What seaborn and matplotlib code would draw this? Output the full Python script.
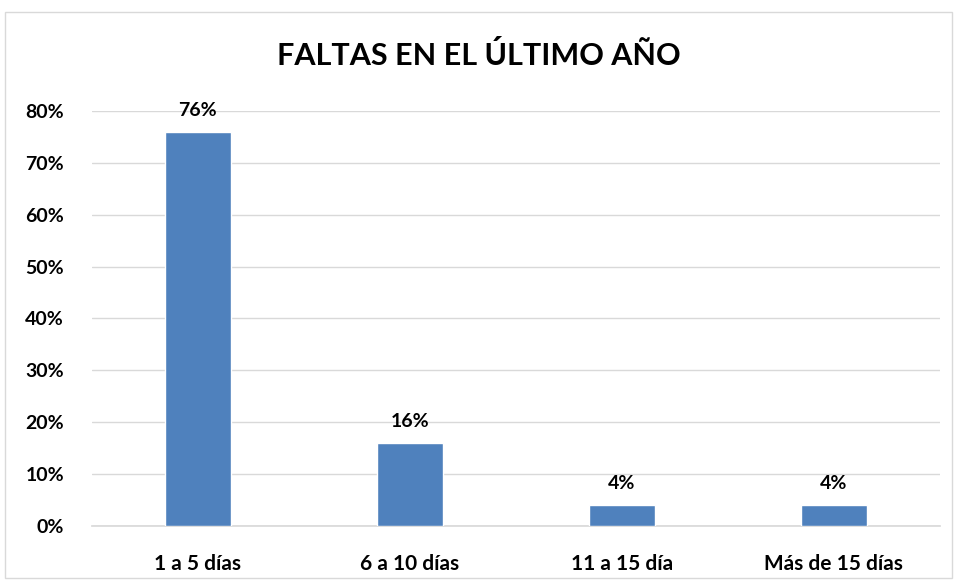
import matplotlib
matplotlib.use("Agg")
import matplotlib.pyplot as plt
import matplotlib.patches as mpatches
from matplotlib.ticker import PercentFormatter
import pandas as pd
import seaborn as sns

categorias = ["1 a 5 días", "6 a 10 días", "11 a 15 día", "Más de 15 días"]
porcentajes = [0.76, 0.16, 0.04, 0.04]
titulo = "FALTAS EN EL ÚLTIMO AÑO"

df = pd.DataFrame({"categoria": categorias, "valor": porcentajes})

sns.set_theme(style="white")
plt.rcParams['font.family'] = ['Lato', 'DejaVu Sans']

fig = plt.figure(figsize=(9.57, 5.81), dpi=100)
ax = fig.add_axes([0.096, 0.095, 0.886, 0.714])

sns.barplot(data=df, x="categoria", y="valor", color="#4F81BD", width=0.31,
            saturation=1, ax=ax, zorder=3)

ax.set_ylim(0, 0.8)
ax.set_yticks([i / 10 for i in range(9)])
ax.yaxis.set_major_formatter(PercentFormatter(1.0, decimals=0))
ax.grid(axis="y", color="#d9d9d9", linewidth=1, zorder=0)
ax.set_axisbelow(True)
for s in ["top", "right", "left"]:
    ax.spines[s].set_visible(False)
ax.spines["bottom"].set_color("#d9d9d9")
ax.set_xlabel("")
ax.set_ylabel("")
ax.set_xticks(range(len(categorias)))
ax.set_xticklabels(categorias, fontsize=15, fontweight="bold", color="black")
ax.tick_params(axis="both", length=0, colors="black")
ax.tick_params(axis="y", labelsize=14, pad=20)
ax.tick_params(axis="x", pad=20)
for lbl in ax.get_yticklabels():
    lbl.set_fontweight("bold")

for i, v in enumerate(porcentajes):
    ax.text(i, v + 0.025, f"{v * 100:.0f}%", ha="center", va="bottom",
            fontsize=14, fontweight="bold", color="black", clip_on=False)

fig.text(0.5, 0.905, titulo, ha="center", va="center", fontsize=22,
         fontweight="bold", color="black")

fig.patches.append(mpatches.Rectangle((0.005, 0.006), 0.99, 0.973,
                                      transform=fig.transFigure, fill=False,
                                      edgecolor="#d9d9d9", linewidth=1))

fig.savefig("out.png", dpi=100, facecolor="white")
